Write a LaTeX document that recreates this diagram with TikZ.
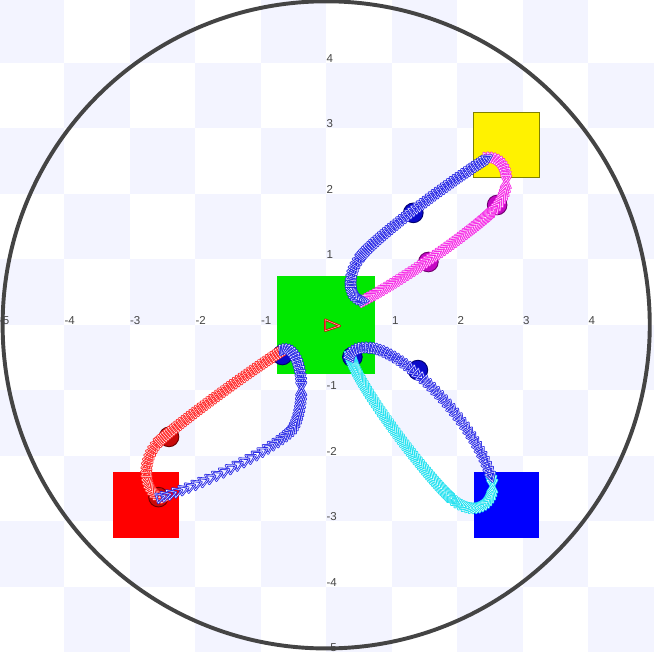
\documentclass[tikz,border=0pt]{standalone}
\usepackage{fontspec}
\setmainfont{Liberation Sans}
\definecolor{checker}{RGB}{243,244,255}
\definecolor{ring}{RGB}{68,68,68}
\definecolor{labelgray}{RGB}{70,70,70}
\definecolor{sqgreen}{RGB}{0,232,0}
\definecolor{sqolive}{RGB}{128,128,0}
\definecolor{trailblue}{RGB}{40,40,230}
\definecolor{trailred}{RGB}{255,40,40}
\definecolor{trailmag}{RGB}{245,40,230}
\definecolor{trailcyan}{RGB}{30,225,240}
\definecolor{dotblue}{RGB}{10,10,200}
\definecolor{dotblueedge}{RGB}{0,0,110}
\definecolor{dotred}{RGB}{200,10,10}
\definecolor{dotrededge}{RGB}{110,0,0}
\definecolor{dotmag}{RGB}{195,10,195}
\definecolor{dotmagedge}{RGB}{110,0,110}
\tikzset{
  lbl/.style={font=\fontsize{5}{6}\selectfont, text=labelgray, inner sep=0pt},
  target/.style={minimum size=1cm, inner sep=0pt, outer sep=0pt},
  ball/.style={line width=0.4pt},
  chevnode/.style={inner sep=0pt, outer sep=0pt, anchor=center},
}
\newcommand\chevronmark[1]{\tikz{
  \draw[#1, line width=0.95pt, line join=round] (-1.9pt,-2.15pt) -- (1.9pt,0pt) -- (-1.9pt,2.15pt) -- cycle;
  \draw[white, line width=0.2pt, line join=round] (-1.9pt,-2.15pt) -- (1.9pt,0pt) -- (-1.9pt,2.15pt) -- cycle;}}
\newcommand\trailseg[6]{%
  \foreach \k in {0,...,#2} {
    \pgfmathsetmacro\tpos{\k/#2}
    \path #3 .. controls #4 and #5 .. #6 node[chevnode, pos=\tpos, sloped] {\chevronmark{#1}};
  }%
}
\begin{document}
\begin{tikzpicture}
\useasboundingbox (-4.98,-5.04) rectangle (5.01,4.96);
\clip (-4.98,-5.04) rectangle (5.01,4.96);
\fill[white] (-4.98,-5.04) rectangle (5.01,4.96);
% checkerboard
\foreach \i in {-5,...,4} {
  \foreach \j in {-5,...,4} {
    \pgfmathtruncatemacro\cellpar{mod(\i+\j+20,2)}
    \ifnum\cellpar=1 \fill[checker] (\i,\j) rectangle ++(1,1); \fi
  }
}
% axis labels
\foreach \k in {-5,-4,-3,-2,-1,1,2,3,4} {
  \node[lbl, anchor=south west] (xl\k) at (\k,0) {\k};
  \node[lbl, anchor=south west] (yl\k) at (0,\k) {\k};
}
% squares
\node[target, fill=sqgreen, minimum size=1.5cm] (home) at (0,0) {};
\node[target, fill=yellow, draw=sqolive, line width=0.4pt] (ysq) at (2.75,2.75) {};
\node[target, fill=red] (rsq) at (-2.75,-2.75) {};
\node[target, fill=blue] (bsq) at (2.75,-2.75) {};
% dots
\filldraw[ball, fill=dotblue, draw=dotblueedge] (-0.67,-0.46) circle (0.15);
\filldraw[ball, fill=dotblue, draw=dotblueedge] (0.40,-0.49) circle (0.15);
\filldraw[ball, fill=dotblue, draw=dotblueedge] (1.40,-0.69) circle (0.15);
\filldraw[ball, fill=dotblue, draw=dotblueedge] (1.33,1.71) circle (0.15);
\filldraw[ball, fill=dotmag, draw=dotmagedge] (1.56,0.96) circle (0.15);
\filldraw[ball, fill=dotmag, draw=dotmagedge] (2.61,1.83) circle (0.15);
\filldraw[ball, fill=dotred, draw=dotrededge] (-2.40,-1.71) circle (0.15);
\filldraw[ball, fill=dotred, draw=dotrededge] (-2.56,-2.63) circle (0.15);
% trails: red (red square -> home)
\trailseg{trailred}{20}{(-2.45,-2.65)}{(-2.80,-2.62)}{(-2.85,-2.05)}{(-2.53,-1.76)}
\trailseg{trailred}{50}{(-2.53,-1.76)}{(-2.20,-1.46)}{(-1.12,-0.67)}{(-0.62,-0.36)}
% blue (home -> red square)
\trailseg{trailblue}{26}{(-0.64,-0.38)}{(-0.35,-0.35)}{(-0.30,-1.20)}{(-0.50,-1.56)}
\trailseg{trailblue}{24}{(-0.50,-1.56)}{(-0.65,-1.83)}{(-1.90,-2.45)}{(-2.52,-2.63)}
% cyan (blue square -> home)
\trailseg{trailcyan}{20}{(2.52,-2.33)}{(2.62,-2.70)}{(2.30,-2.95)}{(1.95,-2.68)}
\trailseg{trailcyan}{60}{(1.95,-2.68)}{(1.60,-2.41)}{(0.45,-0.90)}{(0.37,-0.47)}
% blue (home -> blue square)
\trailseg{trailblue}{9}{(0.37,-0.47)}{(0.42,-0.36)}{(0.55,-0.33)}{(0.72,-0.36)}
\trailseg{trailblue}{36}{(0.72,-0.36)}{(1.22,-0.45)}{(2.25,-1.45)}{(2.52,-2.33)}
% magenta (yellow square -> home)
\trailseg{trailmag}{20}{(2.47,2.55)}{(2.80,2.55)}{(2.85,2.05)}{(2.55,1.75)}
\trailseg{trailmag}{50}{(2.55,1.75)}{(2.25,1.45)}{(1.20,0.70)}{(0.56,0.37)}
% blue (home -> yellow square)
\trailseg{trailblue}{18}{(0.58,0.37)}{(0.35,0.38)}{(0.28,0.75)}{(0.55,1.07)}
\trailseg{trailblue}{50}{(0.55,1.07)}{(0.80,1.37)}{(1.90,2.20)}{(2.47,2.55)}
% central marker
\draw[red!85!black, line width=0.9pt, line join=round] (-0.015,0.08) -- (0.21,-0.015) -- (-0.015,-0.09) -- cycle;
\draw[white!70!red, line width=0.25pt, line join=round] (-0.015,0.08) -- (0.21,-0.015) -- (-0.015,-0.09) -- cycle;
% arena
\draw[ring, line width=1.7pt] (0,0) circle (4.94);
\end{tikzpicture}
\end{document}
